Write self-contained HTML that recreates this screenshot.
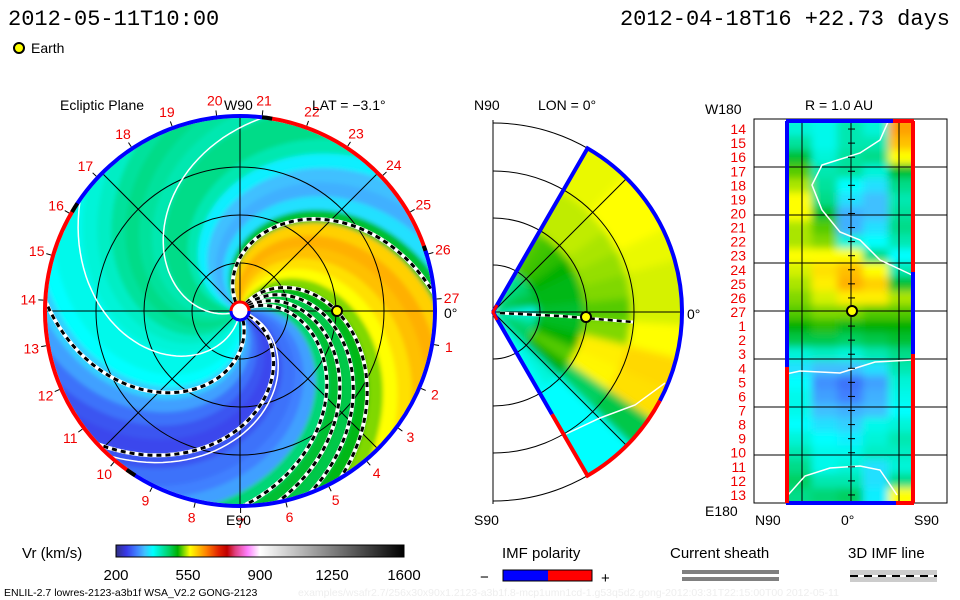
<!DOCTYPE html>
<html><head><meta charset="utf-8">
<style>
html,body{margin:0;padding:0;background:#fff;}
svg{display:block;}
text{font-family:"Liberation Sans",sans-serif;fill:#000;}
.mono{font-family:"Liberation Mono",monospace;}
.red{fill:#f00000;}
</style></head>
<body>
<svg id="chart" width="960" height="600" viewBox="0 0 960 600" xmlns="http://www.w3.org/2000/svg">
<defs>
  <filter id="blur2" x="-5%" y="-5%" width="110%" height="110%"><feGaussianBlur stdDeviation="2"/></filter>
  <filter id="blur4" x="-10%" y="-10%" width="120%" height="120%"><feGaussianBlur stdDeviation="4"/></filter>
  <clipPath id="clipMain"><circle cx="240" cy="311" r="193"/></clipPath>
  <clipPath id="clipWedge"><path id="wedgePathClip" d=""/></clipPath>
  <clipPath id="clipRect"><rect x="786" y="122" width="128" height="380"/></clipPath>
  <linearGradient id="cbar" x1="0" x2="1" y1="0" y2="0"></linearGradient>
</defs>

<text class="mono" x="8" y="25" font-size="22">2012-05-11T10:00</text>
<text class="mono" x="950" y="25" font-size="22" text-anchor="end">2012-04-18T16 +22.73 days</text>
<circle cx="19" cy="48" r="5" fill="#ffff00" stroke="#000" stroke-width="2"/>
<text x="31" y="53" font-size="14">Earth</text>

<g id="mainPanel">
  <g clip-path="url(#clipMain)"><g id="mainField" filter="url(#blur2)"></g></g>
  <g id="mainGrid"></g>
  <g id="mainLines" clip-path="url(#clipMain)"></g>
  <g id="mainRing"></g>
  <g id="mainLabels"></g>
  <text x="60" y="110" font-size="14">Ecliptic Plane</text>
  <text x="224" y="110" font-size="14">W90</text>
  <text x="312" y="110" font-size="14">LAT = −3.1°</text>
  <text x="226" y="525" font-size="14">E90</text>
  <text x="444" y="318" font-size="14">0°</text>
  <circle cx="240" cy="311" r="9" fill="#fff" stroke="#f00" stroke-width="3"/>
  <path d="M231 311 A9 9 0 0 0 249 311" fill="none" stroke="#0000ff" stroke-width="3"/>
  <circle cx="337" cy="311" r="5" fill="#ffff00" stroke="#000" stroke-width="2"/>
</g>

<g id="midPanel">
  <g clip-path="url(#clipWedge)"><g id="midField" filter="url(#blur4)"></g></g>
  <g id="midGrid"></g>
  <text x="474" y="110" font-size="14">N90</text>
  <text x="538" y="110" font-size="14">LON = 0°</text>
  <text x="687" y="319" font-size="14">0°</text>
  <text x="474" y="525" font-size="14">S90</text>
  <circle cx="586" cy="317" r="5" fill="#ffff00" stroke="#000" stroke-width="2"/>
</g>

<g id="rightPanel">
  <rect x="754" y="119" width="193" height="384" fill="none" stroke="#000" stroke-width="1"/>
  <g clip-path="url(#clipRect)"><g id="rightField" filter="url(#blur4)"></g></g>
  <g id="rightGrid"></g>
  <g id="rightLabels"></g>
  <text x="705" y="114" font-size="14">W180</text>
  <text x="805" y="110" font-size="14">R = 1.0 AU</text>
  <text x="705" y="516" font-size="14">E180</text>
  <text x="755" y="525" font-size="14">N90</text>
  <text x="841" y="525" font-size="14">0°</text>
  <text x="914" y="525" font-size="14">S90</text>
  <circle cx="852" cy="311" r="5" fill="#ffff00" stroke="#000" stroke-width="2"/>
</g>

<g id="colorbarGroup">
  <text x="22" y="558" font-size="15">Vr (km/s)</text>
  <rect x="116" y="545" width="288" height="12" fill="url(#cbar)" stroke="#000" stroke-width="1"/>
  <g id="cbarTicks"></g>
</g>

<g>
  <text x="502" y="558" font-size="15">IMF polarity</text>
  <text x="480" y="582" font-size="15">−</text>
  <rect x="503" y="570" width="45" height="11" fill="#0000ff"/>
  <rect x="548" y="570" width="44" height="11" fill="#ff0000"/>
  <rect x="503" y="570" width="89" height="11" fill="none" stroke="#000" stroke-width="1"/>
  <text x="601" y="583" font-size="15">+</text>
</g>
<g>
  <text x="670" y="558" font-size="15">Current sheath</text>
  <rect x="682" y="570" width="97" height="4" fill="#808080"/>
  <rect x="682" y="577" width="97" height="4" fill="#808080"/>
</g>
<g>
  <text x="848" y="558" font-size="15">3D IMF line</text>
  <rect x="850" y="570" width="87" height="12" fill="#cccccc"/>
  <line x1="850" y1="576" x2="937" y2="576" stroke="#fff" stroke-width="2"/>
  <line x1="850" y1="576" x2="937" y2="576" stroke="#000" stroke-width="2" stroke-dasharray="8,6"/>
</g>
<text x="4" y="596" font-size="10.5">ENLIL-2.7 lowres-2123-a3b1f WSA_V2.2 GONG-2123</text>
<text x="298" y="596" font-size="10.5" style="fill:#eeeeee">examples/wsafr2.7/256x30x90x1.2123-a3b1f.8-mcp1umn1cd-1.g53q5d2.gong-2012:03:31T22:15:00T00   2012-05-11</text>
</svg>
<script>
// ---------- data ----------
const cbarTicks = [200, 550, 900, 1250, 1600];
const cmapSpeeds = [200,250,300,340,380,420,460,500,530,560,600,640,700,740,780,840,900,1600];
const cmapColors = ["#303080","#3838e8","#4080ff","#40c0ff","#00ffff","#00e8b0","#00d060","#00b000","#80d800","#ffff00","#ffc000","#ff8000","#e02000","#c00000","#e04080","#ff80ff","#ffffff","#000000"];

// Ecliptic: solar wind speed by source longitude (deg, 10-deg bins)
const srcLon = [0,10,20,30,40,50,60,70,80,90,100,110,120,130,140,150,160,170,180,190,200,210,220,230,240,250,260,270,280,290,300,310,320,330,340,350];
const srcSpeed = [300,320,450,480,470,490,530,560,580,600,610,590,480,360,330,340,370,420,440,440,420,430,440,430,410,400,390,390,380,350,320,290,270,260,270,290];
const hcsLon = [122,58,48,38,28,294,340];
const whiteLon = [200,262,345];
const sectorLabels = [1,2,3,4,5,6,7,8,9,10,11,12,13,14,15,16,17,18,19,20,21,22,23,24,25,26,27];
const ringSegStart = [18,82,148,236];
const ringSegEnd = [82,148,236,378];
const ringSegPol = ["+","-","+","-"];

// Meridional: latitude rows x radial bins
const merLat = [60,50,40,30,20,10,0,-10,-20,-30,-40,-50,-60];
const merR = [0,0.5,1.0,1.5]; // AU bin starts
const merSpeed = [
 [430,520,545,555],[440,515,545,555],[450,510,545,560],[460,500,540,560],
 [470,490,535,555],[480,490,530,550],[380,480,520,550],[420,485,530,560],
 [440,500,570,585],[460,520,565,580],[460,500,460,470],[400,400,380,380],[390,385,380,380]];

// 1 AU map: rows = sector labels 14..13, cols = latitude N90..S90
const mapRows = [14,15,16,17,18,19,20,21,22,23,24,25,26,27,1,2,3,4,5,6,7,8,9,10,11,12,13];
const mapCols = ["N60","N30","0","S30","S60"];
const mapSpeed = [
 [400,390,420,400,620],[430,390,420,420,600],[480,400,430,440,560],[520,420,430,400,480],
 [540,430,380,360,440],[560,440,360,340,420],[560,480,330,340,430],[540,520,330,360,440],
 [540,530,400,380,420],[560,560,560,440,380],[550,580,600,560,420],[540,570,610,590,480],
 [530,550,570,570,540],[520,530,530,520,520],[500,510,490,500,500],[470,470,460,470,480],
 [400,410,400,420,440],[360,340,340,360,420],[380,310,290,320,400],[390,320,300,330,390],
 [390,340,330,340,380],[380,360,350,390,400],[400,380,370,400,420],[420,390,390,410,410],
 [440,390,400,360,400],[460,420,420,360,440],[440,450,460,370,560]];

// ---------- helpers ----------
const NS = "http://www.w3.org/2000/svg";
function mk(tag, parent){ const e=document.createElementNS(NS,tag); parent.appendChild(e); return e; }
function hex2rgb(h){return [parseInt(h.substr(1,2),16),parseInt(h.substr(3,2),16),parseInt(h.substr(5,2),16)];}
function cmap(v){
  if(v<=cmapSpeeds[0]) return cmapColors[0];
  for(let i=1;i<cmapSpeeds.length;i++){
    if(v<=cmapSpeeds[i]){
      const t=(v-cmapSpeeds[i-1])/(cmapSpeeds[i]-cmapSpeeds[i-1]);
      const a=hex2rgb(cmapColors[i-1]), b=hex2rgb(cmapColors[i]);
      return "rgb("+a.map((x,j)=>Math.round(x+(b[j]-x)*t)).join(",")+")";
    }
  }
  return cmapColors[cmapColors.length-1];
}
const rad = d=>d*Math.PI/180;

// ---------- colorbar ----------
const grad=document.getElementById("cbar");
cmapSpeeds.forEach((s,i)=>{const st=mk("stop",grad);st.setAttribute("offset",((s-200)/1400));st.setAttribute("stop-color",cmapColors[i]);});
const cbX = v=>116+(v-200)/1400*288;
const ct=document.getElementById("cbarTicks");
cbarTicks.forEach(v=>{
  const t=mk("text",ct);
  
  
  t.setAttribute("x",cbX(v)); t.setAttribute("y",580); t.setAttribute("font-size","15"); t.setAttribute("text-anchor","middle");
  t.textContent=v;
});

// ---------- main ecliptic panel ----------
const cx=240, cy=311, R=193, K=0.6;
const px=(r,th)=>[cx+r*Math.cos(rad(th)), cy-r*Math.sin(rad(th))];
const mf=document.getElementById("mainField");
srcLon.forEach((a,i)=>{
  const pts=[];
  for(let r=0;r<=205;r+=5) pts.push(px(r,a-1-K*r));
  for(let r=205;r>=0;r-=5) pts.push(px(r,a+11-K*r));
  const p=mk("polygon",mf);
  
  
  p.setAttribute("points",pts.map(q=>q[0].toFixed(1)+","+q[1].toFixed(1)).join(" "));
  p.setAttribute("fill",cmap(srcSpeed[i]));
});
const mg=document.getElementById("mainGrid");
[48,96,144].forEach(r=>{const c=mk("circle",mg);c.setAttribute("cx",cx);c.setAttribute("cy",cy);c.setAttribute("r",r);c.setAttribute("fill","none");c.setAttribute("stroke","#000");c.setAttribute("stroke-width","1");});
[0,45,90,135].forEach(a=>{const p1=px(R,a),p2=px(R,a+180);const l=mk("line",mg);l.setAttribute("x1",p1[0]);l.setAttribute("y1",p1[1]);l.setAttribute("x2",p2[0]);l.setAttribute("y2",p2[1]);l.setAttribute("stroke","#000");l.setAttribute("stroke-width","1");});
function spiral(a){const pts=[];for(let r=10;r<=200;r+=4)pts.push(px(r,a-K*r));return pts.map(q=>q[0].toFixed(1)+","+q[1].toFixed(1)).join(" ");}
const ml=document.getElementById("mainLines");
hcsLon.forEach(a=>{
  const w=mk("polyline",ml);
  
  
  w.setAttribute("points",spiral(a));w.setAttribute("fill","none");w.setAttribute("stroke","#fff");w.setAttribute("stroke-width","4");
  const b=mk("polyline",ml);
  
  
  b.setAttribute("points",spiral(a));b.setAttribute("fill","none");b.setAttribute("stroke","#000");b.setAttribute("stroke-width","3");b.setAttribute("stroke-dasharray","5,4");
});
whiteLon.forEach(a=>{
  const w=mk("polyline",ml);
  
  
  w.setAttribute("points",spiral(a));w.setAttribute("fill","none");w.setAttribute("stroke","#fff");w.setAttribute("stroke-width","1.5");
});
const mr=document.getElementById("mainRing");
function arcPath(r,a1,a2){const p1=px(r,a1),p2=px(r,a2);const large=(a2-a1)>180?1:0;return "M"+p1[0]+" "+p1[1]+" A"+r+" "+r+" 0 "+large+" 0 "+p2[0]+" "+p2[1];}
ringSegStart.forEach((s,i)=>{
  const p=mk("path",mr);
  
  
  p.setAttribute("d",arcPath(R+2,s,ringSegEnd[i]));p.setAttribute("fill","none");
  p.setAttribute("stroke",ringSegPol[i]=="+"?"#ff0000":"#0000ff");p.setAttribute("stroke-width","4");
  const k=mk("path",mr);
  
  
  k.setAttribute("d",arcPath(R+2,s-1.5,s+1.5));k.setAttribute("fill","none");k.setAttribute("stroke","#000");k.setAttribute("stroke-width","4");
});
const mlab=document.getElementById("mainLabels");
sectorLabels.forEach(n=>{
  const a=3.5-n*13.333;
  const t1=px(R+4,a), t2=px(R+9,a);
  const tk=mk("line",mlab);
  
  
  tk.setAttribute("x1",t1[0]);tk.setAttribute("y1",t1[1]);tk.setAttribute("x2",t2[0]);tk.setAttribute("y2",t2[1]);tk.setAttribute("stroke","#000");
  const q=px(R+19,a);
  const t=mk("text",mlab);
  
  
  t.setAttribute("x",q[0].toFixed(1));t.setAttribute("y",(q[1]+5).toFixed(1));t.setAttribute("font-size","14");t.setAttribute("text-anchor","middle");t.setAttribute("class","red");
  t.textContent=n;
});

// ---------- meridional panel ----------
const mx=493,my=312,MR=189,rScale=94;
const mp=(r,th)=>[mx+r*Math.cos(rad(th)), my-r*Math.sin(rad(th))];
const w1=mp(MR,60),w2=mp(MR,-60);
const wedgeD="M"+mx+" "+my+" L"+w1[0]+" "+w1[1]+" A"+MR+" "+MR+" 0 0 1 "+w2[0]+" "+w2[1]+" Z";
document.getElementById("wedgePathClip").setAttribute("d",wedgeD);
const mdf=document.getElementById("midField");
merLat.forEach((lat,i)=>{
  merR.forEach((r0,j)=>{
    const ra=r0*rScale-(j==0?0:3), rb=(j==merR.length-1?MR+10:(merR[j+1]*rScale+3));
    const a1=lat-6, a2=lat+6;
    const p1=mp(ra,a1),p2=mp(rb,a1),p3=mp(rb,a2),p4=mp(ra,a2);
    const p=mk("path",mdf);
    
    
    p.setAttribute("d","M"+p1+" L"+p2+" A"+rb+" "+rb+" 0 0 0 "+p3+" L"+p4+" A"+ra+" "+ra+" 0 0 1 "+p1+" Z");
    p.setAttribute("fill",cmap(merSpeed[i][j]));
  });
});
const mdg=document.getElementById("midGrid");
[47,94,141,189].forEach(r=>{const p=mk("path",mdg);p.setAttribute("d","M"+mx+" "+(my-r)+" A"+r+" "+r+" 0 0 1 "+mx+" "+(my+r));p.setAttribute("fill","none");p.setAttribute("stroke","#000");p.setAttribute("stroke-width","1");});
const vl=mk("line",mdg);vl.setAttribute("x1",mx);vl.setAttribute("y1",my-192);vl.setAttribute("x2",mx);vl.setAttribute("y2",my+192);vl.setAttribute("stroke","#000");
[45,0,-45].forEach(a=>{const q=mp(MR,a);const l=mk("line",mdg);l.setAttribute("x1",mx);l.setAttribute("y1",my);l.setAttribute("x2",q[0]);l.setAttribute("y2",q[1]);l.setAttribute("stroke","#000");});
const edgeTop=mk("path",mdg);edgeTop.setAttribute("d","M"+mx+" "+my+" L"+w1[0]+" "+w1[1]+" A"+MR+" "+MR+" 0 0 1 "+mp(MR,-28)[0]+" "+mp(MR,-28)[1]);edgeTop.setAttribute("fill","none");edgeTop.setAttribute("stroke","#0000ff");edgeTop.setAttribute("stroke-width","4");
const edgeBot=mk("path",mdg);edgeBot.setAttribute("d","M"+mp(MR,-28)[0]+" "+mp(MR,-28)[1]+" A"+MR+" "+MR+" 0 0 1 "+w2[0]+" "+w2[1]+" L"+mp(118,-60)[0]+" "+mp(118,-60)[1]);edgeBot.setAttribute("fill","none");edgeBot.setAttribute("stroke","#ff0000");edgeBot.setAttribute("stroke-width","4");
const edgeBl=mk("path",mdg);edgeBl.setAttribute("d","M"+mp(118,-60)[0]+" "+mp(118,-60)[1]+" L"+mx+" "+my);edgeBl.setAttribute("fill","none");edgeBl.setAttribute("stroke","#0000ff");edgeBl.setAttribute("stroke-width","4");
const wl=mk("polyline",mdg);wl.setAttribute("points","566,434 600,418 635,405 665,383");wl.setAttribute("fill","none");wl.setAttribute("stroke","#fff");wl.setAttribute("stroke-width","1.5");
const dl1=mk("polyline",mdg);dl1.setAttribute("points","500,313 560,316 633,322");dl1.setAttribute("fill","none");dl1.setAttribute("stroke","#fff");dl1.setAttribute("stroke-width","3");
const dl2=mk("polyline",mdg);dl2.setAttribute("points","500,313 560,316 633,322");dl2.setAttribute("fill","none");dl2.setAttribute("stroke","#000");dl2.setAttribute("stroke-width","2.5");dl2.setAttribute("stroke-dasharray","5,4");
const sunM=mk("path",mdg);sunM.setAttribute("d","M497 305 L493 312 L497 320");sunM.setAttribute("fill","none");sunM.setAttribute("stroke","#ff0000");sunM.setAttribute("stroke-width","3");

// ---------- 1 AU map ----------
const rx0=786, ry0=122, rw=128, rh=380;
const rowH=rh/mapRows.length, colW=rw/mapCols.length;
const rf=document.getElementById("rightField");
mapRows.forEach((lab,i)=>{
  mapCols.forEach((c,j)=>{
    const r=mk("rect",rf);
    
    
    r.setAttribute("x",rx0+j*colW-(j==0?6:0));r.setAttribute("y",ry0+i*rowH-(i==0?6:0));
    r.setAttribute("width",colW+(j==0||j==mapCols.length-1?6:0)+0.5);r.setAttribute("height",rowH+(i==0||i==mapRows.length-1?6:0)+0.5);
    r.setAttribute("fill",cmap(mapSpeed[i][j]));
  });
});
const rg=document.getElementById("rightGrid");
[802,851,899].forEach(x=>{const l=mk("line",rg);l.setAttribute("x1",x);l.setAttribute("y1",119);l.setAttribute("x2",x);l.setAttribute("y2",503);l.setAttribute("stroke","#000");});
[167,215,263,311,359,407,455].forEach(y=>{const l=mk("line",rg);l.setAttribute("x1",754);l.setAttribute("y1",y);l.setAttribute("x2",947);l.setAttribute("y2",y);l.setAttribute("stroke","#000");});
[["888,122 880,140 860,153 822,165 812,185 822,210 840,232 860,240 880,260 912,275"],["786,374 800,371 840,373 875,362 912,360"],["788,495 805,476 830,468 860,466 880,470 897,495"]].forEach(p=>{const l=mk("polyline",rg);l.setAttribute("points",p[0]);l.setAttribute("fill","none");l.setAttribute("stroke","#fff");l.setAttribute("stroke-width","1.5");});
function seg(x1,y1,x2,y2,c){const l=mk("line",rg);l.setAttribute("x1",x1);l.setAttribute("y1",y1);l.setAttribute("x2",x2);l.setAttribute("y2",y2);l.setAttribute("stroke",c);l.setAttribute("stroke-width","4");}
seg(786,121,893,121,"#0000ff");seg(893,121,914,121,"#ff0000");
seg(786,503,896,503,"#0000ff");seg(896,503,914,503,"#ff0000");
seg(787,121,787,367,"#0000ff");seg(787,367,787,503,"#ff0000");
seg(913,121,913,272,"#ff0000");seg(913,272,913,354,"#0000ff");seg(913,354,913,503,"#ff0000");
const rl=document.getElementById("rightLabels");
mapRows.forEach((lab,i)=>{
  const t=mk("text",rl);
  
  
  t.setAttribute("x",746);t.setAttribute("y",(ry0+i*rowH+rowH/2+5).toFixed(1));t.setAttribute("font-size","14");t.setAttribute("text-anchor","end");t.setAttribute("class","red");
  t.textContent=lab;
  const tk=mk("line",rl);tk.setAttribute("x1",848);tk.setAttribute("x2",855);tk.setAttribute("y1",ry0+i*rowH+rowH/2);tk.setAttribute("y2",ry0+i*rowH+rowH/2);tk.setAttribute("stroke","#000");
});
</script>
</body></html>
